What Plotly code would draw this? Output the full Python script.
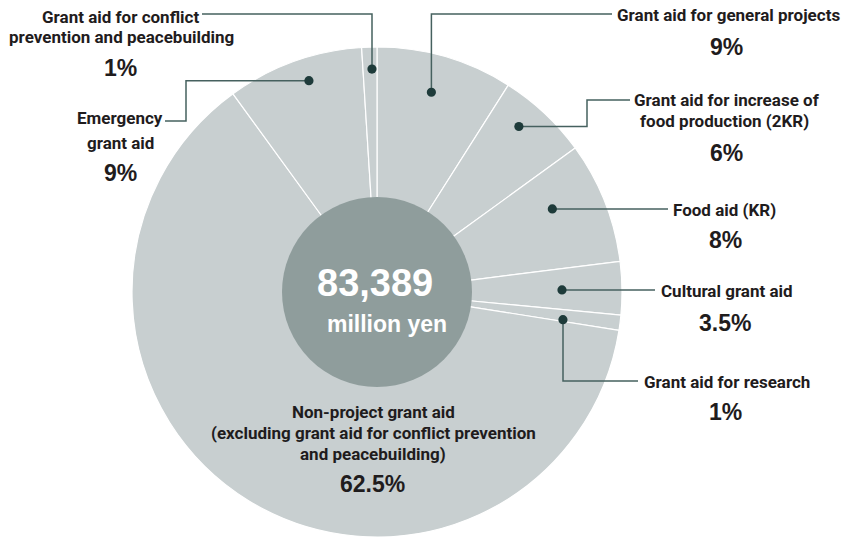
import math
import plotly.graph_objects as go

# ---------------- data ----------------
categories = [
    "Grant aid for general projects",
    "Grant aid for increase of food production (2KR)",
    "Food aid (KR)",
    "Cultural grant aid",
    "Grant aid for research",
    "Non-project grant aid (excluding grant aid for conflict prevention and peacebuilding)",
    "Emergency grant aid",
    "Grant aid for conflict prevention and peacebuilding",
]
shares = [9, 6, 8, 3.5, 1, 62.5, 9, 1]
share_labels = ["9%", "6%", "8%", "3.5%", "1%", "62.5%", "9%", "1%"]
total_text = "83,389"
unit_text = "million yen"

# ---------------- layout constants (pixels) ----------------
W, H = 849, 538
CX, CY, R = 377, 292, 245
R_IN = 95
PIE_COLOR = "#c8cfd0"
INNER_COLOR = "#8f9d9c"
DOT_COLOR = "#1e3b3a"
LINE_COLOR = "#46615f"
TEXT_COLOR = "#1f1c1d"
NARROW = "Roboto, Liberation Sans, sans-serif"
WIDE = "Liberation Sans, Arial, Helvetica, sans-serif"

# dot placement inside each slice: (fraction of slice angle, radius) ; None = no dot
dot_place = [(0.47, 207), (0.38, 218), (0.37, 194), (0.52, 185), (0.85, 188), None, (0.56, 222), (0.64, 223)]

# label text lines: list of (text, x, y)  and percent position
label_lines = [
    [("Grant aid for general projects", 728, 15)],
    [("Grant aid for increase of", 727, 100), ("food production (2KR)", 724, 121)],
    [("Food aid (KR)", 724, 210)],
    [("Cultural grant aid", 727, 291)],
    [("Grant aid for research", 727, 382)],
    [("Non-project grant aid", 373, 412),
     ("(excluding grant aid for conflict prevention", 373, 433),
     ("and peacebuilding)", 373, 454)],
    [("Emergency", 120, 118), ("grant aid", 120, 143)],
    [("Grant aid for conflict", 120, 17), ("prevention and peacebuilding", 121, 37)],
]
pct_pos = [(726, 47), (726, 153), (725, 240), (725, 323), (725, 412), (372, 484), (120, 173), (120, 68)]

# leader waypoints after the dot; "DX"/"DY" mean the dot's x / y
leaders = [
    [("DX", 14), (612, 14)],
    [(587, "DY"), (587, 100), (630, 100)],
    [(668, "DY")],
    [(655, "DY")],
    [("DX", 381), (638, 381)],
    None,
    [(186, "DY"), (186, 121), (165, 121)],
    [("DX", 14), (202, 14)],
]

fig = go.Figure()

fig.add_trace(go.Pie(
    labels=categories, values=shares, sort=False, direction="clockwise", rotation=0,
    hole=(R_IN - 2) / R, textinfo="none", hoverinfo="label+percent",
    marker=dict(colors=[PIE_COLOR] * len(shares), line=dict(color="white", width=1.2)),
    domain=dict(x=[(CX - R) / W, (CX + R) / W], y=[1 - (CY + R) / H, 1 - (CY - R) / H]),
    showlegend=False,
))

# invisible pixel-space axes for overlays
fig.add_trace(go.Scatter(x=[0, W], y=[0, H], mode="markers", marker=dict(opacity=0),
                         hoverinfo="skip", showlegend=False))

shapes = []
annotations = []

# inner circle
shapes.append(dict(type="circle", xref="x", yref="y", layer="above",
                   x0=CX - R_IN, x1=CX + R_IN, y0=CY - R_IN, y1=CY + R_IN,
                   fillcolor=INNER_COLOR, line=dict(width=0)))

total = sum(shares)
cum = 0.0
dots = []
for i, v in enumerate(shares):
    a0 = cum / total * 360
    a1 = (cum + v) / total * 360
    cum += v
    if dot_place[i] is None:
        dots.append(None)
        continue
    frac, rr = dot_place[i]
    ang = math.radians(a0 + frac * (a1 - a0))
    dots.append((CX + rr * math.sin(ang), CY - rr * math.cos(ang)))

# leader lines
for i, d in enumerate(dots):
    if d is None or leaders[i] is None:
        continue
    pts = [d]
    for px, py in leaders[i]:
        px = d[0] if px == "DX" else px
        py = d[1] if py == "DY" else py
        pts.append((px, py))
    path = "M " + " L ".join(f"{x:.1f},{y:.1f}" for x, y in pts)
    shapes.append(dict(type="path", xref="x", yref="y", layer="above", path=path,
                       line=dict(color=LINE_COLOR, width=1.5)))

# dots
for d in dots:
    if d is None:
        continue
    shapes.append(dict(type="circle", xref="x", yref="y", layer="above",
                       x0=d[0] - 4.6, x1=d[0] + 4.6, y0=d[1] - 4.6, y1=d[1] + 4.6,
                       fillcolor=DOT_COLOR, line=dict(width=0)))

# labels
for i, lines in enumerate(label_lines):
    for txt, x, y in lines:
        annotations.append(dict(text=txt, x=x, y=y, xref="x", yref="y", showarrow=False,
                                xanchor="center", yanchor="middle",
                                font=dict(family=NARROW, size=17, color=TEXT_COLOR, weight="bold")))
    px, py = pct_pos[i]
    annotations.append(dict(text=share_labels[i], x=px, y=py, xref="x", yref="y", showarrow=False,
                            xanchor="center", yanchor="middle",
                            font=dict(family=WIDE, size=23, color=TEXT_COLOR, weight="bold")))

annotations.append(dict(text=total_text, x=375, y=283, xref="x", yref="y", showarrow=False,
                        xanchor="center", yanchor="middle",
                        font=dict(family=WIDE, size=38, color="white", weight="bold")))
annotations.append(dict(text=unit_text, x=387, y=324, xref="x", yref="y", showarrow=False,
                        xanchor="center", yanchor="middle",
                        font=dict(family=WIDE, size=23, color="white", weight="bold")))

fig.update_layout(
    width=W, height=H, margin=dict(l=0, r=0, t=0, b=0),
    paper_bgcolor="white", plot_bgcolor="rgba(0,0,0,0)",
    xaxis=dict(range=[0, W], visible=False, fixedrange=True, domain=[0, 1]),
    yaxis=dict(range=[H, 0], visible=False, fixedrange=True, domain=[0, 1]),
    shapes=shapes, annotations=annotations, showlegend=False,
)

fig.write_html("out.html", config={"displayModeBar": False},
               post_script="document.body.style.margin='0';document.body.style.overflow='hidden';")
